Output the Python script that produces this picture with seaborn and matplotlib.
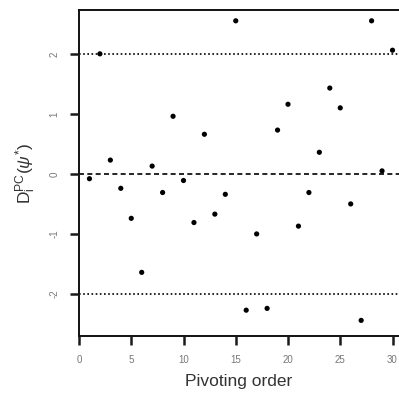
import matplotlib
matplotlib.use("Agg")
import matplotlib.pyplot as plt
import matplotlib.transforms as mtransforms
from matplotlib.lines import Line2D
import seaborn as sns
import pandas as pd

order = list(range(1, 31))
dpc = [-0.08, 2.00, 0.23, -0.24, -0.74, -1.64, 0.13, -0.31, 0.96, -0.11,
       -0.81, 0.66, -0.67, -0.34, 2.55, -2.27, -1.00, -2.24, 0.73, 1.16,
       -0.87, -0.31, 0.36, 1.43, 1.10, -0.50, -2.44, 2.55, 0.05, 2.06]
xticks = [0, 5, 10, 15, 20, 25, 30]
yticks = [-2, -1, 0, 1, 2]

df = pd.DataFrame({"order": order, "dpc": dpc})

sns.set_theme(style="white")
plt.rcParams['font.family'] = ['Liberation Sans', 'DejaVu Sans']
plt.rcParams['mathtext.fontset'] = 'custom'
plt.rcParams['mathtext.rm'] = 'Liberation Sans'
plt.rcParams['mathtext.it'] = 'Liberation Sans:italic'

W, H = 399, 397
fig = plt.figure(figsize=(W / 100, H / 100), dpi=100)
left_px, right_px, top_px, bot_px = 79, 399, 10, 336
ax_w, ax_h = right_px - left_px, bot_px - top_px
ax = fig.add_axes([left_px / W, (H - bot_px) / H, ax_w / W, ax_h / H])

sns.scatterplot(data=df, x="order", y="dpc", ax=ax, color="black", s=14,
                edgecolor="none", zorder=3)

ax.axhline(0, color="black", linestyle=(0, (3, 2)), linewidth=1.2)
ax.axhline(2, color="black", linestyle=(0, (1, 1.5)), linewidth=1.2)
ax.axhline(-2, color="black", linestyle=(0, (1, 1.5)), linewidth=1.2)

ax.set_xlim(0, ax_w / 10.45)
ax.set_ylim(-2.7, 2.73)
ax.set_xticks(xticks)
ax.set_yticks(yticks)
ax.set_xticklabels([str(t) for t in xticks], fontsize=7)
ax.set_yticklabels([str(t) for t in yticks], fontsize=7, rotation=90, va="center")
ax.tick_params(axis="both", which="major", length=0, labelcolor="#777777", pad=14)

# outward tick marks, drawn at figure level at the tick values
tick_len = 9
xt = mtransforms.blended_transform_factory(ax.transData, ax.transAxes)
yt = mtransforms.blended_transform_factory(ax.transAxes, ax.transData)
for v in xticks:
    fig.add_artist(Line2D([v, v], [-tick_len / ax_h, 0], transform=xt,
                          color="#1a1a1a", linewidth=1.8, solid_capstyle="butt"))
for v in yticks:
    fig.add_artist(Line2D([-tick_len / ax_w, 0], [v, v], transform=yt,
                          color="#1a1a1a", linewidth=1.8, solid_capstyle="butt"))

for side in ["left", "bottom", "top"]:
    ax.spines[side].set_color("#111111")
    ax.spines[side].set_linewidth(1.4)
ax.spines["right"].set_visible(False)

ax.set_xlabel("Pivoting order", fontsize=12.5, color="#333333", labelpad=6)
ax.set_ylabel(r"$\mathrm{D}_{\mathrm{i}}^{\mathrm{PC}}(\psi^{*})$", fontsize=12.5, color="#333333", labelpad=8)

fig.savefig("out.png", dpi=100)
